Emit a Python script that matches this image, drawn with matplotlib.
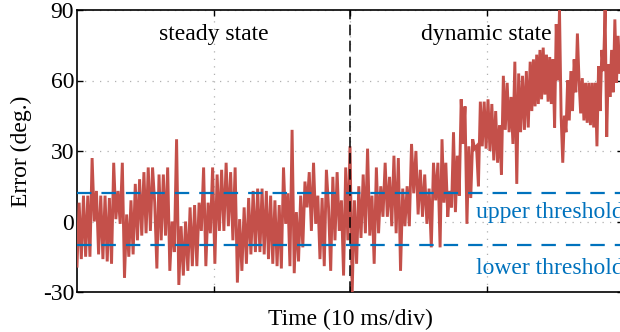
import numpy as np
import matplotlib
matplotlib.use("Agg")
import matplotlib.pyplot as plt

# ---- data ----
# time windows (ms) of each read-off segment
seg_edges_ms = [0.0, 6.8, 13.4, 20.0, 26.6, 33.2, 40.0]

seg1 = [-19, 8, -16, 11, -15, 11, -15, 27, 0, 13, -14, 11, -16, 11, -17, 10, -18, 25, 1, 13,
        -1, 25, -24, 3, -15, 9, -14, 16, -8, 18, -6, 21, -5, 23, -4, 23, 8, -20, 20, -8, 20, -6, 23]
seg2 = [-21, 0, -13, 35, -27, -2, -23, 0, -21, 6, -19, 7, -19, 8, -4, 23, -19, 8, -5, 23,
        -18, 20, -4, 22, -4, 25, -2, 21, -8, 23, -26, 1, -21, 6, -18, 10, -14, 13, -13, 14]
seg3 = [-13, 14, -14, 13, -16, 11, -18, 9, -19, 7, -20, 23, -1, 12, -19, 39, -22, 4, -17, 11,
        -11, 17, 6, 21, -4, 25, -1, 11, -16, 10, -19, 22, 6, -21, 19, -8, 21, -4, 9, -23, 23, -8]
seg4 = [32, -30, 9, -18, 15, -7, 20, -5, 31, -6, 11, -18, 23, -5, 15, 2, 25, 2, 19, -2,
        28, -5, 27, -21, 14, -2, 15, -2, 33, 12, 30, 3, 22, 2, 20, -1, 14, -11, 25, 9, 25]
seg5 = [-11, 35, 8, 25, 2, 13, 6, 38, 4, 28, 11, 52, 33, 49, -1, 32, 10, 35, 31, 32,
        15, 51, 32, 51, 31, 52, 30, 50, 26, 47, 25, 41, 20, 62, 39, 59, 38, 53, 33, 68,
        16, 63, 38, 62, 39, 64, 40]
seg6 = [68, 47, 69, 49, 71, 50, 73, 52, 74, 54, 71, 51, 70, 50, 69, 40, 84, 60, 90, 45,
        25, 45, 38, 60, 43, 64, 47, 69, 55, 80, 60, 46, 61, 43, 59, 42, 59, 41, 59, 40,
        59, 32, 66, 47, 73, 64, 90, 36, 67, 53, 73, 55, 86, 59, 79, 63, 75]
segments = [seg1, seg2, seg3, seg4, seg5, seg6]

upper_threshold = 12
lower_threshold = -10
switch_time_ms = 20

y_ticks = [-30, 0, 30, 60, 90]
x_ticks = [10, 20, 30]

# ---- build series ----
t_parts, v_parts = [], []
for i, seg in enumerate(segments):
    t_parts.append(np.linspace(seg_edges_ms[i], seg_edges_ms[i + 1], len(seg), endpoint=False))
    v_parts.append(np.array(seg, dtype=float))
t = np.concatenate(t_parts)
v = np.concatenate(v_parts)

plt.rcParams['font.family'] = ['Liberation Serif', 'DejaVu Serif']
plt.rcParams['axes.unicode_minus'] = False

FS = 17

fig = plt.figure(figsize=(6.2, 3.32), dpi=100)
ax = fig.add_axes([77 / 620, 40 / 332, 546 / 620, 282 / 332])

ax.set_xlim(0, 40)
ax.set_ylim(-30, 90)
ax.set_xticks(x_ticks)
ax.set_xticklabels([])
ax.set_yticks(y_ticks)
ax.set_yticklabels([str(y) for y in y_ticks], fontsize=FS)

ax.grid(True, color='#b0b0b0', linewidth=0.9, dashes=(1, 5))
ax.set_axisbelow(True)

ax.plot(t, v, color='#C4504A', linewidth=2.1, zorder=3, solid_joinstyle='miter')
ax.axvline(switch_time_ms, color='black', linewidth=1.1, dashes=(7, 3.5), zorder=4)
ax.axhline(upper_threshold, color='#0072BD', linewidth=1.6, dashes=(6.5, 4.5), zorder=5)
ax.axhline(lower_threshold, color='#0072BD', linewidth=1.6, dashes=(6.5, 4.5), zorder=5)

ax.text(10, 79.5, 'steady state', ha='center', va='center', fontsize=FS)
ax.text(30, 79.5, 'dynamic state', ha='center', va='center', fontsize=FS)
ax.text(29.2, 4.0, 'upper threshold', ha='left', va='center', fontsize=FS, color='#0072BD')
ax.text(29.2, -20.0, 'lower threshold', ha='left', va='center', fontsize=FS, color='#0072BD')

ax.set_xlabel('Time (10 ms/div)', fontsize=FS, labelpad=10)
ax.set_ylabel('Error (deg.)', fontsize=FS, labelpad=8)

for s in ax.spines.values():
    s.set_linewidth(1.2)
ax.tick_params(direction='in', length=4, width=1, top=True, right=True, pad=2)

fig.savefig('out.png', dpi=100)
